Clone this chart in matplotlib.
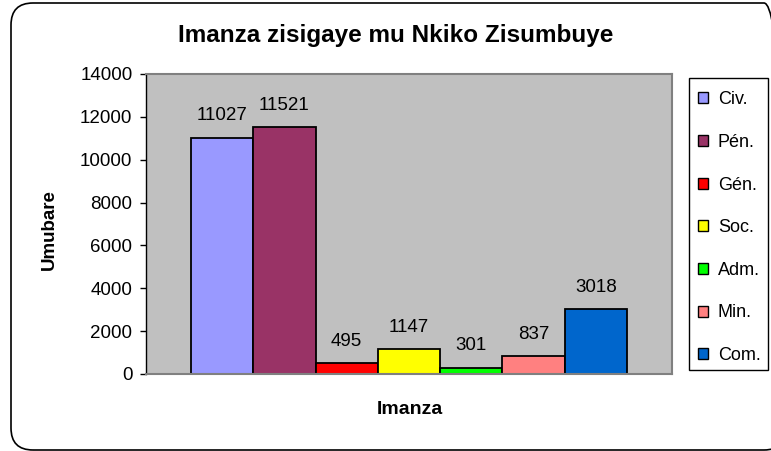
import matplotlib
matplotlib.use("Agg")
import matplotlib.pyplot as plt
from matplotlib.patches import FancyBboxPatch, Patch, Rectangle

plt.rcParams["font.family"] = ["Liberation Sans", "DejaVu Sans"]

categories = ["Civ.", "Pén.", "Gén.", "Soc.", "Adm.", "Min.", "Com."]
values = [11027, 11521, 495, 1147, 301, 837, 3018]
colors = ["#9999FF", "#993366", "#FF0000", "#FFFF00", "#00FF00", "#FF8080", "#0066CC"]
yticks = [0, 2000, 4000, 6000, 8000, 10000, 12000, 14000]

fig = plt.figure(figsize=(7.71, 4.51), dpi=100, facecolor="white")
W, H = 771, 451

# rounded outer border (inches, so the corners stay round); runs off the right edge
border = FancyBboxPatch((0.11, 0.01), 7.75, 4.47,
                        boxstyle="round,pad=0,rounding_size=0.22",
                        transform=fig.dpi_scale_trans, facecolor="none",
                        edgecolor="black", linewidth=1.2, zorder=-1)
fig.patches.append(border)

ax = fig.add_axes([146 / W, 1 - 374 / H, 526 / W, 300 / H])
ax.set_facecolor("#C0C0C0")

x = list(range(len(categories)))
ax.bar(x, values, width=1.0, color=colors, edgecolor="black", linewidth=1.3, zorder=2)

for xi, v in zip(x, values):
    ax.annotate(str(v), (xi, v), xytext=(0, 12.5), textcoords="offset points",
                ha="center", va="baseline", fontsize=13.5)

ax.set_xlim(-1.22, 7.22)
ax.set_ylim(0, 14000)
ax.set_yticks(yticks)
ax.tick_params(axis="y", labelsize=13.5, length=4.3, width=1, direction="out", pad=5.5)
ax.set_xticks([])
for side in ["top", "right", "bottom"]:
    ax.spines[side].set_color("#808080")
    ax.spines[side].set_linewidth(1.5)
ax.spines["left"].set_color("black")
ax.spines["left"].set_linewidth(1.0)

fig.text(49 / W, 1 - 230 / H, "Umubare", rotation=90, ha="center", va="center",
         fontsize=13.5, fontweight="bold")
fig.text(410 / W, 1 - 410 / H, "Imanza", ha="center", va="center",
         fontsize=14, fontweight="bold")
fig.text(395.5 / W, 1 - 42 / H, "Imanza zisigaye mu Nkiko Zisumbuye",
         ha="center", va="baseline", fontsize=17.5, fontweight="bold")

# legend box drawn separately so its size matches the original
fig.patches.append(Rectangle((689 / W, 1 - 370 / H), 79 / W, 292 / H,
                             transform=fig.transFigure, facecolor="white",
                             edgecolor="black", linewidth=1.0, zorder=1))
handles = [Patch(facecolor=c, edgecolor="black", linewidth=1.0) for c in colors]
leg = fig.legend(handles, categories, loc="upper left",
                 bbox_to_anchor=(698 / W, 1 - 91.3 / H), frameon=False,
                 fontsize=13, handlelength=0.55, handleheight=0.55,
                 handletextpad=0.55, labelspacing=1.42, borderpad=0,
                 borderaxespad=0)
leg.set_zorder(2)

fig.savefig("out.png", dpi=100)
